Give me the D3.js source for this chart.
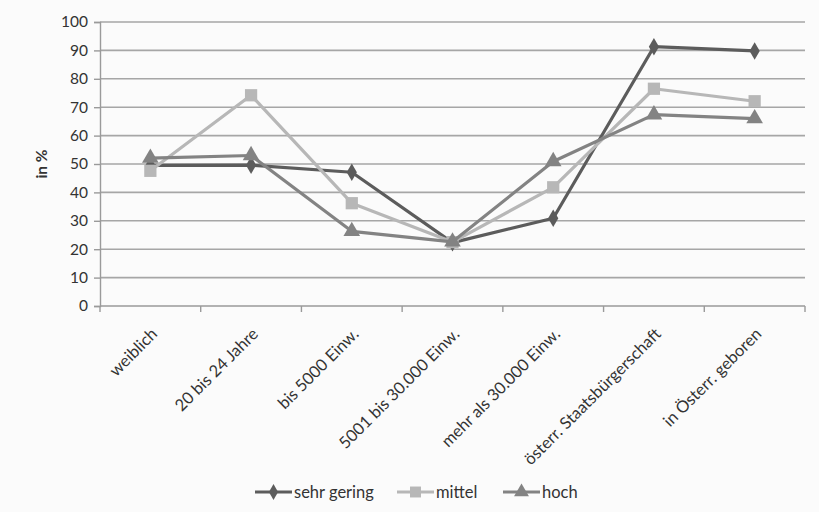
<!DOCTYPE html>
<html>
<head>
<meta charset="utf-8">
<script src="https://cdn.jsdelivr.net/npm/d3@7"></script>
<style>
  html, body { margin: 0; padding: 0; background: #fbfbfb; }
  svg { display: block; font-family: Lato, "Open Sans", "DejaVu Sans", sans-serif; }
</style>
</head>
<body>
<svg id="chart" width="819" height="512"></svg>
<script>
// Categories along the x axis
const categories = [
  "weiblich",
  "20 bis 24 Jahre",
  "bis 5000 Einw.",
  "5001 bis 30.000 Einw.",
  "mehr als 30.000 Einw.",
  "österr. Staatsbürgerschaft",
  "in Österr. geboren"
];

// Series values in %
const sehrGering = [49.5, 49.6, 47.1, 22.3, 30.9, 91.3, 89.8];
const mittel     = [47.6, 74.2, 36.2, 22.5, 41.8, 76.5, 72.1];
const hoch       = [52.1, 53.0, 26.3, 22.6, 50.9, 67.4, 66.0];

const seriesNames = ["sehr gering", "mittel", "hoch"];
const yTicks = [0, 10, 20, 30, 40, 50, 60, 70, 80, 90, 100];

const series = [
  { name: seriesNames[0], values: sehrGering, color: "#5c5c5c", symbol: d3.symbolDiamond, size: 90 },
  { name: seriesNames[1], values: mittel,     color: "#b7b7b7", symbol: d3.symbolSquare,  size: 150 },
  { name: seriesNames[2], values: hoch,       color: "#838383", symbol: d3.symbolTriangle, size: 120 }
];

const svg = d3.select("#chart");
const margin = { left: 100, right: 14, top: 22, bottom: 206 };
const W = 819, H = 512;

const x = d3.scaleBand().domain(categories).range([margin.left, W - margin.right]).paddingInner(0).paddingOuter(0);
const y = d3.scaleLinear().domain([0, 100]).range([H - margin.bottom, margin.top]);

// Horizontal gridlines
svg.append("g")
  .selectAll("line")
  .data(yTicks.slice(1))
  .join("line")
  .attr("x1", margin.left).attr("x2", W - margin.right)
  .attr("y1", d => y(d)).attr("y2", d => y(d))
  .attr("stroke", "#a6a6a6").attr("stroke-width", 1.6);

// Y axis
const yAxis = svg.append("g")
  .attr("transform", `translate(${margin.left},0)`)
  .call(d3.axisLeft(y).tickValues(yTicks).tickSize(6).tickPadding(6));
yAxis.select(".domain").attr("stroke", "#9a9a9a").attr("stroke-width", 1.4);
yAxis.selectAll(".tick line").attr("stroke", "#9a9a9a").attr("stroke-width", 1.4);
yAxis.selectAll(".tick text").attr("font-size", 15.5).attr("fill", "#333").attr("font-family", "Lato, 'Open Sans', sans-serif");

// X axis with ticks at category boundaries
const xAxisG = svg.append("g").attr("transform", `translate(0,${y(0)})`);
xAxisG.append("line")
  .attr("x1", margin.left).attr("x2", W - margin.right)
  .attr("stroke", "#9a9a9a").attr("stroke-width", 1.6);
const boundaries = categories.map(c => x(c)).concat([x.range()[1]]);
xAxisG.selectAll("line.tick")
  .data(boundaries)
  .join("line")
  .attr("class", "tick")
  .attr("x1", d => d).attr("x2", d => d)
  .attr("y1", 0).attr("y2", 6)
  .attr("stroke", "#9a9a9a").attr("stroke-width", 1.4);

// Rotated category labels
xAxisG.selectAll("text")
  .data(categories)
  .join("text")
  .attr("transform", d => `translate(${x(d) + x.bandwidth() / 2 + 8},${29}) rotate(-45)`)
  .attr("text-anchor", "end")
  .attr("font-size", 16.5)
  .attr("fill", "#333")
  .text(d => d);

// Y axis title
svg.append("text")
  .attr("transform", `translate(47,${(y(0) + y(100)) / 2}) rotate(-90)`)
  .attr("text-anchor", "middle")
  .attr("font-size", 15.5)
  .attr("font-weight", "bold")
  .attr("fill", "#333")
  .text("in %");

// Lines and markers
const line = d3.line()
  .x((d, i) => x(categories[i]) + x.bandwidth() / 2)
  .y(d => y(d));

series.forEach(s => {
  svg.append("path")
    .datum(s.values)
    .attr("d", line)
    .attr("fill", "none")
    .attr("stroke", s.color)
    .attr("stroke-width", 3.2)
    .attr("stroke-linejoin", "round");
  svg.append("g")
    .selectAll("path")
    .data(s.values)
    .join("path")
    .attr("transform", (d, i) => `translate(${x(categories[i]) + x.bandwidth() / 2},${y(d)})`)
    .attr("d", d3.symbol().type(s.symbol).size(s.size))
    .attr("fill", s.color);
});

// Legend
const legendX = [255, 397, 503];
const legendY = 492;
const legend = svg.append("g");
series.forEach((s, i) => {
  const g = legend.append("g").attr("transform", `translate(${legendX[i]},${legendY})`);
  g.append("line").attr("x1", 0).attr("x2", 37).attr("stroke", s.color).attr("stroke-width", 3.2);
  g.append("path").attr("transform", "translate(18.5,0)")
    .attr("d", d3.symbol().type(s.symbol).size(s.size * 0.8)).attr("fill", s.color);
  g.append("text").attr("x", 39).attr("dy", "0.35em")
    .attr("font-size", 16.5).attr("fill", "#333").text(s.name);
});
</script>
</body>
</html>
